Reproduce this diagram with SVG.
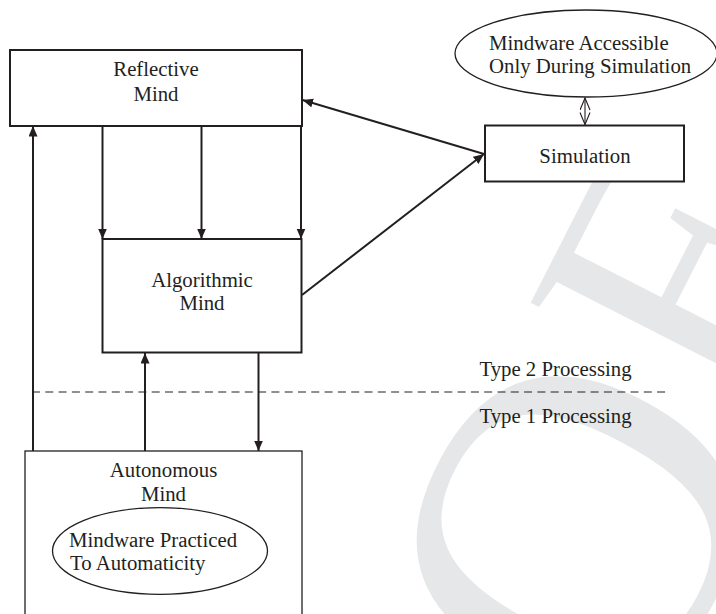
<svg xmlns="http://www.w3.org/2000/svg" width="716" height="614" viewBox="0 0 716 614">
  <style>
    .box { fill: #ffffff; stroke: #231f20; stroke-width: 2; }
    .thin { stroke-width: 1.3; }
    .oval { fill: #ffffff; stroke: #231f20; stroke-width: 1.3; }
    .lbl { font-family: "Liberation Serif", "Times New Roman", serif; font-size: 20.8px; fill: #231f20; }
    .mid { text-anchor: middle; }
    .wire { fill: none; stroke: #231f20; stroke-width: 2; marker-end: url(#head); }
    .wm { font-family: "Liberation Serif", "Times New Roman", serif; fill: #e6e7e8; }
  </style>
  <defs>
    <marker id="head" markerUnits="userSpaceOnUse" markerWidth="11" markerHeight="10" refX="10.5" refY="4.5" orient="auto">
      <path d="M0,0 L10.5,4.5 L0,9 z" fill="#231f20"/>
    </marker>
    <marker id="open" markerUnits="userSpaceOnUse" markerWidth="14" markerHeight="12" refX="12.5" refY="5.5" orient="auto-start-reverse">
      <path d="M0.5,0.5 L12.5,5.5 L0.5,10.5" fill="none" stroke="#231f20" stroke-width="1.1"/>
    </marker>
  </defs>

  <!-- background watermark letters -->
  <g id="watermark">
    <text class="wm" font-size="460" transform="translate(631,749) rotate(-62)">O</text>
    <text class="wm" font-size="360" transform="translate(736,419) rotate(-63)">F</text>
  </g>

  <!-- nodes -->
  <g id="reflective">
    <rect class="box" x="10" y="50" width="292" height="76"/>
    <text class="lbl mid" x="156" y="76">Reflective</text>
    <text class="lbl mid" x="156" y="101">Mind</text>
  </g>

  <g id="algorithmic">
    <rect class="box" x="102.5" y="239" width="199" height="113.5"/>
    <text class="lbl mid" x="202" y="287">Algorithmic</text>
    <text class="lbl mid" x="202" y="310">Mind</text>
  </g>

  <g id="simulation">
    <rect class="box" x="485" y="125.5" width="199" height="56"/>
    <text class="lbl mid" x="585" y="163">Simulation</text>
  </g>

  <g id="mindware-simulation">
    <ellipse class="oval" cx="586" cy="53.5" rx="131" ry="43.5"/>
    <text class="lbl" x="489" y="50">Mindware Accessible</text>
    <text class="lbl" x="489" y="73">Only During Simulation</text>
  </g>

  <g id="autonomous">
    <rect class="box thin" x="25" y="451" width="277" height="175"/>
    <text class="lbl mid" x="163.5" y="477">Autonomous</text>
    <text class="lbl mid" x="163.5" y="501">Mind</text>
    <g id="mindware-automatic">
      <ellipse class="oval" cx="160" cy="551" rx="107.5" ry="43.3"/>
      <text class="lbl" x="69" y="547">Mindware Practiced</text>
      <text class="lbl" x="70" y="570">To Automaticity</text>
    </g>
  </g>

  <!-- processing boundary -->
  <g id="boundary">
    <line x1="32" y1="392" x2="667" y2="392" stroke="#231f20" stroke-width="1.2" stroke-dasharray="8 5.3"/>
    <text class="lbl mid" x="555.5" y="376">Type 2 Processing</text>
    <text class="lbl mid" x="555.5" y="423">Type 1 Processing</text>
  </g>

  <!-- connectors -->
  <g id="connectors">
    <line class="wire" x1="102.5" y1="126" x2="102.5" y2="239"/>
    <line class="wire" x1="201.5" y1="126" x2="201.5" y2="239"/>
    <line class="wire" x1="301" y1="126" x2="301" y2="239"/>
    <line class="wire" x1="33" y1="451" x2="33" y2="126"/>
    <line class="wire" x1="145" y1="451" x2="145" y2="353"/>
    <line class="wire" x1="258.5" y1="353" x2="258.5" y2="451"/>
    <line class="wire" x1="484" y1="154" x2="302.5" y2="100"/>
    <line class="wire" x1="302" y1="295" x2="484" y2="154"/>
    <line x1="585" y1="98" x2="585" y2="124.5" stroke="#231f20" stroke-width="1.1" marker-start="url(#open)" marker-end="url(#open)"/>
  </g>
</svg>
